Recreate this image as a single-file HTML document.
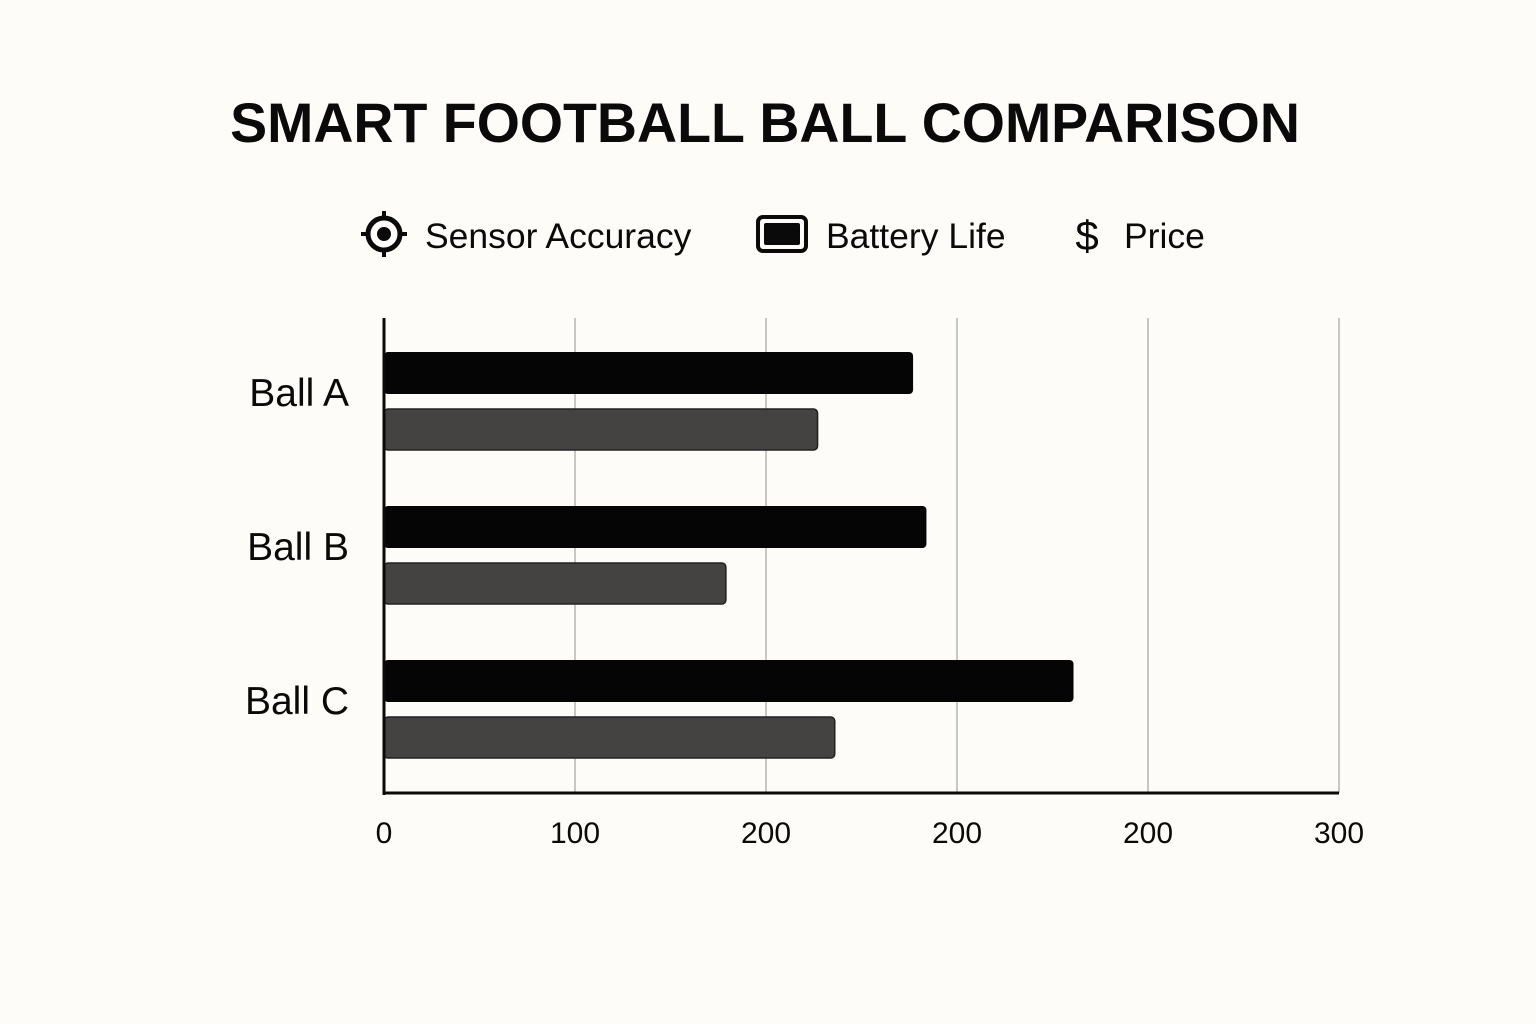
<!DOCTYPE html>
<html><head><meta charset="utf-8"><style>
html,body{margin:0;padding:0;background:#fdfcf8;}
svg{display:block;font-family:"Liberation Sans",sans-serif;}
</style></head><body>
<svg id="chart" width="1536" height="1024" viewBox="0 0 1536 1024">
<rect width="1536" height="1024" fill="#fdfcf8"/>
<text x="765" y="142" text-anchor="middle" font-size="55.5" font-weight="bold" fill="#0a0a0a">SMART FOOTBALL BALL COMPARISON</text>
<g>
 <g>
  <circle cx="384" cy="234" r="16" fill="none" stroke="#0a0a0a" stroke-width="5"/>
  <circle cx="384" cy="234" r="7" fill="#0a0a0a"/>
  <line x1="384" y1="211" x2="384" y2="218" stroke="#0a0a0a" stroke-width="4"/>
  <line x1="384" y1="250" x2="384" y2="257" stroke="#0a0a0a" stroke-width="4"/>
  <line x1="361" y1="234" x2="368" y2="234" stroke="#0a0a0a" stroke-width="4"/>
  <line x1="400" y1="234" x2="407" y2="234" stroke="#0a0a0a" stroke-width="4"/>
  <text x="425" y="248" font-size="35.5" fill="#0a0a0a">Sensor Accuracy</text>
 </g>
 <g>
  <rect x="758" y="217" width="48" height="34" rx="5" fill="none" stroke="#0a0a0a" stroke-width="4"/>
  <rect x="764" y="223" width="36" height="22" rx="2" fill="#0a0a0a"/>
  <text x="826" y="248" font-size="35.5" fill="#0a0a0a">Battery Life</text>
 </g>
 <g>
  <text x="1087" y="250" text-anchor="middle" font-size="42" fill="#0a0a0a">$</text>
  <text x="1124" y="248" font-size="35.5" fill="#0a0a0a">Price</text>
 </g>
</g>
<g id="grid"></g>
<g id="bars"></g>
<g id="cats"></g>
<g id="ticks"></g>
<line x1="384" y1="318" x2="384" y2="795" stroke="#0a0a0a" stroke-width="3"/>
<line x1="383" y1="793" x2="1339" y2="793" stroke="#0a0a0a" stroke-width="3"/>
</svg>
<script>
const categories = ["Ball A", "Ball B", "Ball C"];
const sensorAccuracy = [277, 284, 361];
const batteryLife = [227, 179, 236];
const tickValues = [0, 100, 200, 300, 400, 500];
const tickLabels = ["0", "100", "200", "200", "200", "300"];

const NS = "http://www.w3.org/2000/svg";
const x0 = 384, pxPer = 1.91;
function xScale(v){ return x0 + v * pxPer; }
const groupTop = 352, groupStep = 154;
function yCat(i){ return groupTop + i * groupStep; }
function mk(tag, attrs){ const e = document.createElementNS(NS, tag); for (const k in attrs) e.setAttribute(k, attrs[k]); return e; }

const grid = document.getElementById('grid');
const ticks = document.getElementById('ticks');
tickValues.forEach((v, i) => {
  const x = xScale(v);
  if (v > 0) {
    const l = mk('line', {x1:x, y1:318, x2:x, y2:793, stroke:'#b5b5b5', 'stroke-width':1.5});
    
    
    grid.appendChild(l);
  }
  const t = mk('text', {x:x, y:843, 'text-anchor':'middle', 'font-size':30, fill:'#0a0a0a'});
  t.textContent = tickLabels[i];
  
  
  ticks.appendChild(t);
});

const bars = document.getElementById('bars');
const cats = document.getElementById('cats');
categories.forEach((c, i) => {
  const y = yCat(i);
  const b1 = mk('rect', {x:x0, y:y, width:xScale(sensorAccuracy[i]) - x0, height:42, rx:4, fill:'#050505'});
  
  
  bars.appendChild(b1);
  const b2 = mk('rect', {x:x0, y:y + 57, width:xScale(batteryLife[i]) - x0, height:41, rx:4, fill:'#444341', stroke:'#222', 'stroke-width':1.5});
  
  
  bars.appendChild(b2);
  const t = mk('text', {x:349, y:y + 54, 'text-anchor':'end', 'font-size':39, fill:'#0a0a0a'});
  t.textContent = c;
  
  
  cats.appendChild(t);
});
</script>
</body></html>
